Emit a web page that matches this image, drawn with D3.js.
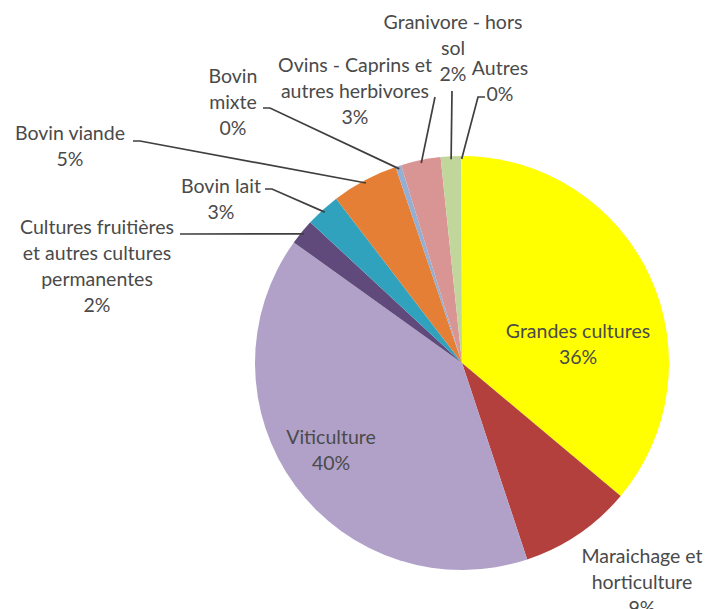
<!DOCTYPE html>
<html lang="fr">
<head>
<meta charset="utf-8">
<script src="https://cdn.jsdelivr.net/npm/d3@7"></script>
<style>
  html, body { margin: 0; padding: 0; background: #ffffff; }
  svg { display: block; }
  text { font-family: Lato, "Open Sans", "DejaVu Sans", sans-serif; fill: #4a4a4a; }
</style>
</head>
<body>
<svg id="chart" width="707" height="609"></svg>
<script>
// Répartition des exploitations par orientation technico-économique (%)
const categories = [
  "Grandes cultures",
  "Maraîchage et horticulture",
  "Viticulture",
  "Cultures fruitières et autres cultures permanentes",
  "Bovin lait",
  "Bovin viande",
  "Bovin mixte",
  "Ovins - Caprins et autres herbivores",
  "Granivore - hors sol",
  "Autres"
];
const values = [36.1, 8.8, 40.0, 2.0, 2.7, 5.2, 0.45, 3.1, 1.6, 0.05];
const colors = [
  "#ffff00", "#b4403d", "#b1a1c8", "#604a7b", "#31a2bd",
  "#e47f35", "#95aed3", "#d89593", "#c1d69b", "#f2dcdb"
];
// label text lines (the percentage is appended from the value)
const labelLines = [
  ["Grandes cultures"],
  ["Maraichage et", "horticulture"],
  ["Viticulture"],
  ["Cultures fruitières", "et autres cultures", "permanentes"],
  ["Bovin lait"],
  ["Bovin viande"],
  ["Bovin", "mixte"],
  ["Ovins - Caprins et", "autres herbivores"],
  ["Granivore - hors", "sol"],
  ["Autres"]
];

const svg = d3.select("#chart");
const cx = 462, cy = 363, R = 207;
const lineH = 26;

// label anchor (x = centre of text block, y = first baseline) and leader start
const layout = [
  { x: 578, y: 338, lead: null },
  { x: 642, y: 563, lead: null },
  { x: 331, y: 444, lead: null },
  { x: 97,  y: 234, lead: [[180, 234], [186, 234]] },
  { x: 221, y: 193, lead: [[265, 189], [272, 189]] },
  { x: 70,  y: 140, lead: [[133, 141], [140, 141]] },
  { x: 233, y: 83,  lead: [[263, 108], [270, 108]] },
  { x: 355, y: 72,  lead: [[435, 97], [435, 97]] },
  { x: 453, y: 29,  lead: [[452, 91], [452, 91]] },
  { x: 500, y: 75,  lead: [[485, 97], [478, 97]] }
];

const data = categories.map((c, i) => ({ name: c, value: values[i], color: colors[i], lines: labelLines[i], pos: layout[i] }));

const pie = d3.pie().sort(null).value(d => d.value).startAngle(0).endAngle(2 * Math.PI);
const arcs = pie(data);
const arc = d3.arc().innerRadius(0).outerRadius(R);
const pct = d3.format(".0%");
const total = d3.sum(values);

const g = svg.append("g").attr("transform", `translate(${cx},${cy})`);

g.selectAll("path.slice")
  .data(arcs)
  .enter().append("path")
  .attr("class", "slice")
  .attr("d", arc)
  .attr("fill", d => d.data.color)
  .attr("stroke", "none");

// leader lines: from label to the outer edge of the slice at its mid angle
const leaders = arcs.filter(a => a.data.pos.lead);
svg.selectAll("path.leader")
  .data(leaders)
  .enter().append("path")
  .attr("class", "leader")
  .attr("fill", "none")
  .attr("stroke", "#3f3f3f")
  .attr("stroke-width", 1.7)
  .attr("d", a => {
    const mid = (a.startAngle + a.endAngle) / 2;
    const ex = cx + (R - 3) * Math.sin(mid);
    const ey = cy - (R - 3) * Math.cos(mid);
    const [p0, p1] = a.data.pos.lead;
    return d3.line()([p0, p1, [ex, ey]]);
  });

// labels
const labels = svg.selectAll("text.lbl")
  .data(arcs)
  .enter().append("text")
  .attr("class", "lbl")
  .attr("text-anchor", "middle")
  .style("font-size", "19.5px");

labels.each(function (a) {
  const t = d3.select(this);
  const lines = a.data.lines.concat([pct(a.data.value / total)]);
  lines.forEach((ln, j) => {
    t.append("tspan")
      .attr("x", a.data.pos.x)
      .attr("y", a.data.pos.y + j * lineH)
      .text(ln);
  });
});
</script>
</body>
</html>
